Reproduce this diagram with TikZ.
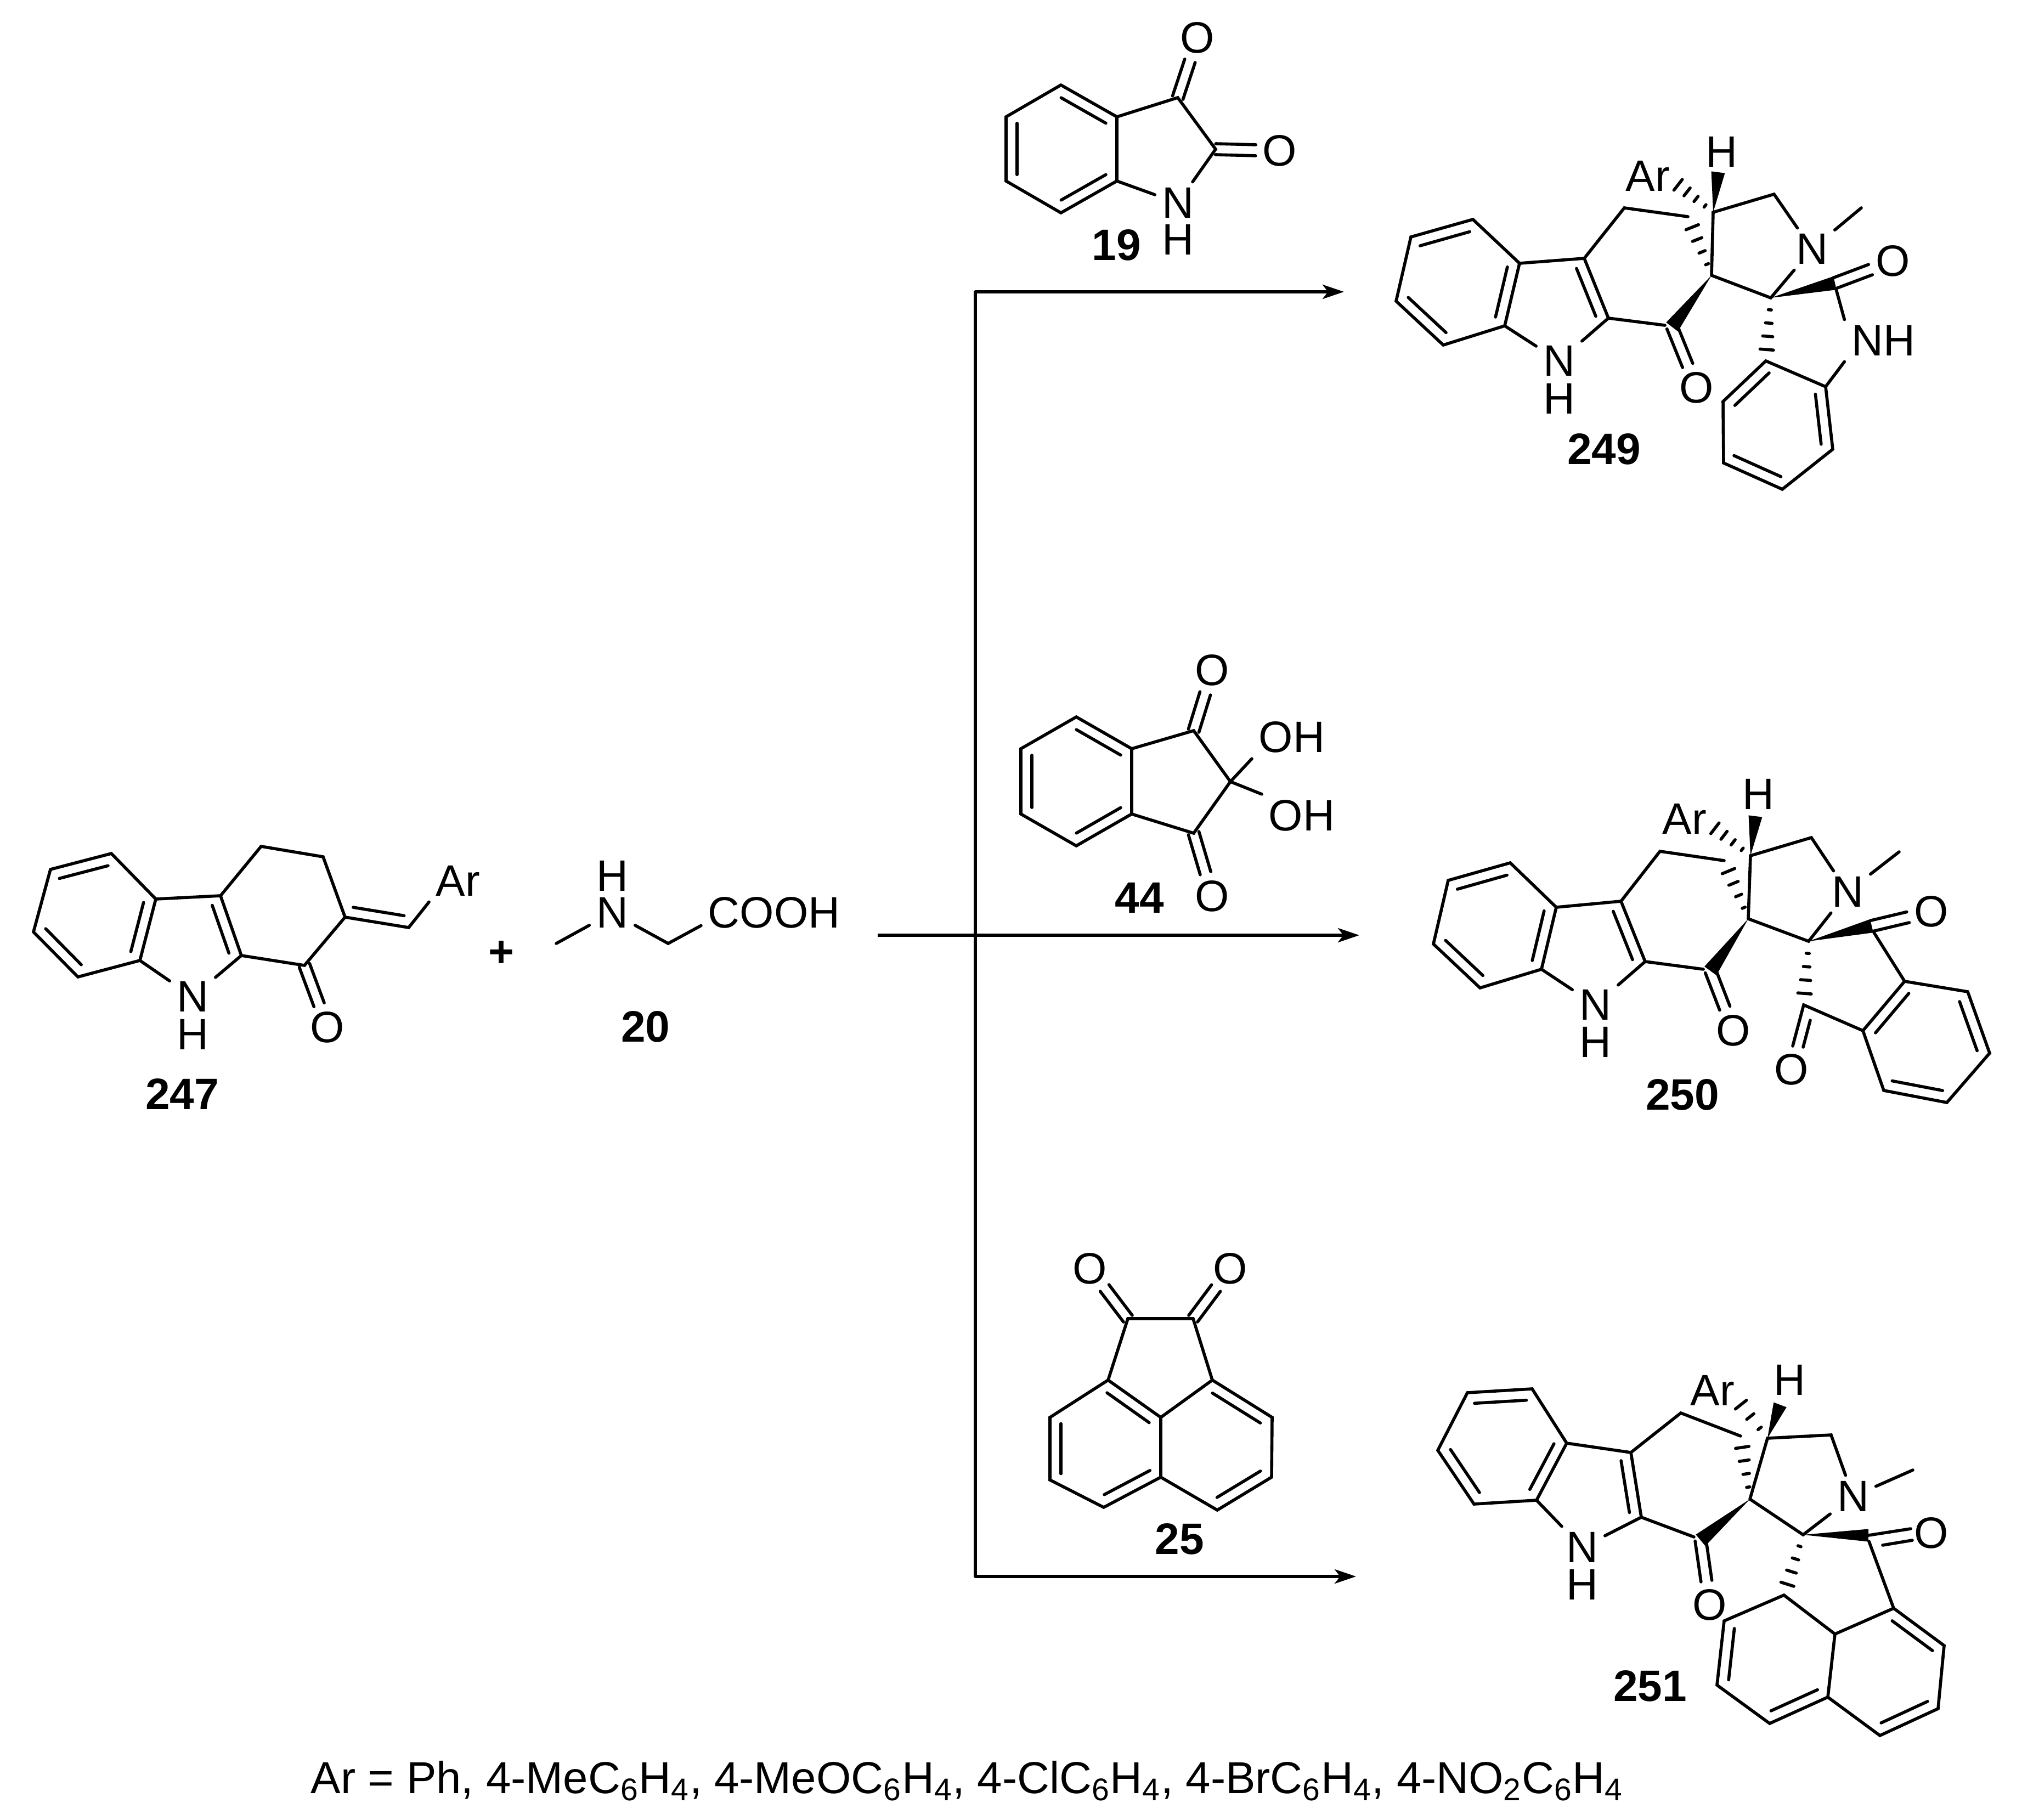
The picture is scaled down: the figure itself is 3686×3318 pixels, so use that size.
\documentclass[tikz,border=0pt]{standalone}
\usepackage{fontspec}
\setmainfont{Liberation Sans}
\usetikzlibrary{calc,arrows.meta}
\newcommand{\ringbond}[2]{\draw ($(#1)!.1!(#2)!.2cm!90:(#2)$) -- ($(#2)!.1!(#1)!.2cm!-90:(#1)$);}
\newcommand{\oxobond}[2]{%
    \draw [shorten >=.44cm] ($(#1)!.1cm!90:(#2)$) -- ($(#2)!.1cm!-90:(#1)$);
    \draw [shorten >=.44cm] ($(#1)!.1cm!-90:(#2)$) -- ($(#2)!.1cm!90:(#1)$);}
\newcommand{\wedgebond}[3]{\fill ($(#2)!#3!90:(#1)$) -- (#1) -- ($(#2)!#3!-90:(#1)$) -- cycle;}
\newcommand{\hashbond}[3][.19,.4,.61,.82]{\foreach \hs in {#1}
    \draw ($(#2)!\hs!(#3)!\hs*.15cm!90:(#3)$) -- ($(#2)!\hs!(#3)!\hs*.15cm!-90:(#3)$);}
\begin{document}
\begin{tikzpicture}[x=.01cm,y=-.01cm,line width=.056cm,line cap=round,
    atom/.style={font=\fontsize{22.8}{27}\selectfont,inner xsep=.1cm,inner ysep=.08cm},
    hatom/.style={atom,inner sep=0pt},
    cpd/.style={font=\fontsize{22.8}{27}\selectfont\bfseries,inner sep=0pt},
    rxnarrow/.style={-{Stealth[length=.39cm,width=.26cm,inset=.1cm]},line cap=butt}]
    \useasboundingbox (0,0) rectangle (3686,3318);
    \coordinate (isA) at (1934,155);
    \coordinate (isB) at (2036,213);
    \coordinate (isC) at (2036,330);
    \coordinate (isD) at (1934,388);
    \coordinate (isE) at (1834,330);
    \coordinate (isF) at (1834,213);
    \coordinate (isG) at (2147,178);
    \coordinate (isI) at (2216,272);
    \node [atom] (isN) at (2147,370) {N};
    \node [hatom] (isH) at (2147,437) {H};
    \node [atom] (isO) at (2183,69) {O};
    \node [atom] (isP) at (2333,275) {O};
    \node [cpd] (isL) at (2035,447) {19};
    \draw (isA) -- (isB) -- (isC) -- (isD) -- (isE) -- (isF) -- cycle;
    \draw (isB) -- (isG) -- (isI) -- (isN) -- (isC);
    \ringbond{isB}{isA}
    \ringbond{isD}{isC}
    \ringbond{isF}{isE}
    \oxobond{isG}{isO}
    \oxobond{isI}{isP}

    \coordinate (nhA) at (1962,1307);
    \coordinate (nhB) at (2063,1365);
    \coordinate (nhC) at (2063,1484);
    \coordinate (nhD) at (1962,1542);
    \coordinate (nhE) at (1861,1484);
    \coordinate (nhF) at (1861,1365);
    \coordinate (nhG) at (2176,1332);
    \coordinate (nhI) at (2243,1425);
    \coordinate (nhJ) at (2176,1519);
    \node [atom] (nhO) at (2210,1222) {O};
    \node [atom] (nhP) at (2210,1634) {O};
    \node [atom] (nhQ) at (2355,1344) {OH};
    \node [atom] (nhR) at (2373,1487) {OH};
    \node [cpd] (nhL) at (2077,1637) {44};
    \draw (nhA) -- (nhB) -- (nhC) -- (nhD) -- (nhE) -- (nhF) -- cycle;
    \draw (nhB) -- (nhG) -- (nhI) -- (nhJ) -- (nhC);
    \draw (nhI) -- (nhQ.south west);
    \draw (nhI) -- (nhR.north west);
    \ringbond{nhB}{nhA}
    \ringbond{nhD}{nhC}
    \ringbond{nhF}{nhE}
    \oxobond{nhG}{nhO}
    \oxobond{nhJ}{nhP}

    \coordinate (acA) at (2056,2404);
    \coordinate (acB) at (2175,2404);
    \coordinate (acC) at (2020,2516);
    \coordinate (acD) at (2210,2516);
    \coordinate (acE) at (2116,2584);
    \coordinate (acF) at (2116,2693);
    \coordinate (acG) at (1914,2584);
    \coordinate (acI) at (1914,2698);
    \coordinate (acJ) at (2012,2748);
    \coordinate (acK) at (2319,2584);
    \coordinate (acM) at (2318,2693);
    \coordinate (acN) at (2219,2753);
    \node [atom] (acO) at (1987,2313) {O};
    \node [atom] (acP) at (2243,2313) {O};
    \node [cpd] (acL) at (2150,2806) {25};
    \draw (acA) -- (acB) -- (acD) -- (acE) -- (acC) -- cycle;
    \draw (acC) -- (acG) -- (acI) -- (acJ) -- (acF) -- (acE);
    \draw (acD) -- (acK) -- (acM) -- (acN) -- (acF);
    \ringbond{acE}{acC}
    \ringbond{acG}{acI}
    \ringbond{acJ}{acF}
    \ringbond{acK}{acD}
    \ringbond{acN}{acM}
    \oxobond{acA}{acO}
    \oxobond{acB}{acP}

    \coordinate (cbA) at (203,1556);
    \coordinate (cbB) at (92,1585);
    \coordinate (cbC) at (61,1699);
    \coordinate (cbD) at (142,1781);
    \coordinate (cbE) at (255,1751);
    \coordinate (cbF) at (284,1639);
    \coordinate (cbG) at (402,1633);
    \coordinate (cbI) at (440,1742);
    \coordinate (cbJ) at (555,1760);
    \coordinate (cbK) at (629,1672);
    \coordinate (cbM) at (589,1562);
    \coordinate (cbQ) at (476,1543);
    \coordinate (cbR) at (745,1691);
    \node [atom] (cbN) at (351,1817) {N};
    \node [hatom] (cbH) at (351,1886) {H};
    \node [atom] (cbO) at (597,1873) {O};
    \node [atom] (cbAr) at (835,1606) {Ar};
    \node [cpd] (cbL) at (332,1994) {247};
    \node [atom] (plus) at (914,1739) {\textbf{+}};
    \draw (cbA) -- (cbB) -- (cbC) -- (cbD) -- (cbE) -- (cbF) -- cycle;
    \draw (cbF) -- (cbG) -- (cbI) -- (cbN) -- (cbE);
    \draw (cbI) -- (cbJ) -- (cbK) -- (cbM) -- (cbQ) -- (cbG);
    \draw (cbK) -- (cbR) -- (cbAr.south west);
    \ringbond{cbA}{cbB}
    \ringbond{cbC}{cbD}
    \ringbond{cbE}{cbF}
    \ringbond{cbI}{cbG}
    \ringbond{cbK}{cbR}
    \oxobond{cbJ}{cbO}

    \coordinate (srA) at (1014,1720);
    \coordinate (srB) at (1218,1720);
    \node [atom] (srN) at (1116,1664) {N};
    \node [hatom] (srH) at (1116,1597) {H};
    \node [atom] (srC) at (1411,1664) {COOH};
    \node [cpd] (srL) at (1177,1872) {20};
    \draw (srA) -- (srN) -- (srB) -- (srC.190);

    \coordinate (brS) at (1600,1705);
    \coordinate (brT) at (1778,532);
    \coordinate (brU) at (1778,2874);
    \coordinate (brA) at (2450,532);
    \coordinate (brB) at (2478,1705);
    \coordinate (brC) at (2472,2874);
    \draw (brT) -- (brU);
    \draw [rxnarrow] (brT) -- (brA);
    \draw [rxnarrow] (brS) -- (brB);
    \draw [rxnarrow] (brU) -- (brC);

    \coordinate (paA) at (2685,400);
    \coordinate (paB) at (2572,432);
    \coordinate (paC) at (2545,549);
    \coordinate (paD) at (2631,629);
    \coordinate (paE) at (2743,594);
    \coordinate (paF) at (2770,480);
    \coordinate (paG) at (2888,471);
    \coordinate (paI) at (2932,580);
    \coordinate (paJ) at (3035,593);
    \coordinate (paJd) at (3048,596);
    \coordinate (paK) at (3120,502);
    \coordinate (paM) at (3123,387);
    \coordinate (paQ) at (2961,379);
    \coordinate (paR) at (3077,395);
    \coordinate (paS) at (3234,354);
    \coordinate (paT) at (3228,543);
    \coordinate (paU) at (3347,527);
    \coordinate (paUd) at (3345,516);
    \coordinate (paV) at (3328,705);
    \coordinate (paW) at (3219,658);
    \coordinate (paX) at (3141,732);
    \coordinate (paY) at (3142,844);
    \coordinate (paZ) at (3249,892);
    \coordinate (paAa) at (3341,819);
    \coordinate (paMe) at (3393,379);
    \coordinate (paAe) at (3045,326);
    \coordinate (paHe) at (3132,314);
    \node [atom] (paN) at (2842,658) {N};
    \node [hatom] (paH) at (2842,727) {H};
    \node [atom] (paO) at (3093,707) {O};
    \node [atom] (paTop) at (3138,277) {H};
    \node [atom] (paAr) at (3004,321) {Ar};
    \node [atom] (paNm) at (3303,454) {N};
    \node [atom] (paP) at (3451,476) {O};
    \node [atom] (paNH) at (3433,621) {NH};
    \node [cpd] (paL) at (2924,819) {249};
    \draw (paA) -- (paB) -- (paC) -- (paD) -- (paE) -- (paF) -- cycle;
    \draw (paF) -- (paG) -- (paI) -- (paN) -- (paE);
    \draw (paI) -- (paJ);
    \draw (paG) -- (paQ) -- (paR);
    \draw (paK) -- (paM) -- (paS) -- (paNm) -- (paT) -- (paK);
    \draw (paNm) -- (paMe);
    \draw (paU) -- (paNH.north west);
    \draw (paNH.south west) -- (paV);
    \draw (paV) -- (paW) -- (paX) -- (paY) -- (paZ) -- (paAa) -- cycle;
    \wedgebond{paK}{paJd}{.135cm}
    \wedgebond{paT}{paUd}{.125cm}
    \wedgebond{paM}{paHe}{.125cm}
    \hashbond{paM}{paAe}
    \hashbond{paK}{paR}
    \hashbond{paT}{paW}
    \ringbond{paA}{paB}
    \ringbond{paC}{paD}
    \ringbond{paE}{paF}
    \ringbond{paI}{paG}
    \ringbond{paW}{paX}
    \ringbond{paY}{paZ}
    \ringbond{paAa}{paV}
    \oxobond{paJd}{paO}
    \oxobond{paUd}{paP}

    \coordinate (pbA) at (2753,1573);
    \coordinate (pbB) at (2640,1605);
    \coordinate (pbC) at (2613,1721);
    \coordinate (pbD) at (2698,1801);
    \coordinate (pbE) at (2810,1767);
    \coordinate (pbF) at (2837,1654);
    \coordinate (pbG) at (2955,1643);
    \coordinate (pbI) at (2999,1753);
    \coordinate (pbJ) at (3105,1767);
    \coordinate (pbJd) at (3118,1770);
    \coordinate (pbK) at (3187,1675);
    \coordinate (pbM) at (3191,1560);
    \coordinate (pbQ) at (3026,1552);
    \coordinate (pbR) at (3143,1569);
    \coordinate (pbS) at (3302,1527);
    \coordinate (pbT) at (3297,1716);
    \coordinate (pbU) at (3416,1700);
    \coordinate (pbUd) at (3412,1688);
    \coordinate (pbV) at (3472,1789);
    \coordinate (pbW) at (3396,1879);
    \coordinate (pbX) at (3288,1832);
    \coordinate (pbY) at (3587,1808);
    \coordinate (pbZ) at (3627,1920);
    \coordinate (pbAa) at (3549,2010);
    \coordinate (pbBb) at (3434,1988);
    \coordinate (pbMe) at (3462,1553);
    \coordinate (pbAe) at (3112,1499);
    \coordinate (pbHe) at (3200,1488);
    \coordinate (pbXa) at (3268,1907);
    \coordinate (pbXb) at (3300,1860);
    \coordinate (pbXc) at (3287,1909);
    \node [atom] (pbN) at (2908,1832) {N};
    \node [hatom] (pbH) at (2908,1900) {H};
    \node [atom] (pbO) at (3160,1879) {O};
    \node [atom] (pbTop) at (3205,1448) {H};
    \node [atom] (pbAr) at (3071,1493) {Ar};
    \node [atom] (pbNm) at (3368,1626) {N};
    \node [atom] (pbP) at (3521,1662) {O};
    \node [atom] (pbPp) at (3266,1950) {O};
    \node [cpd] (pbL) at (3067,1996) {250};
    \draw (pbA) -- (pbB) -- (pbC) -- (pbD) -- (pbE) -- (pbF) -- cycle;
    \draw (pbF) -- (pbG) -- (pbI) -- (pbN) -- (pbE);
    \draw (pbI) -- (pbJ);
    \draw (pbG) -- (pbQ) -- (pbR);
    \draw (pbK) -- (pbM) -- (pbS) -- (pbNm) -- (pbT) -- (pbK);
    \draw (pbNm) -- (pbMe);
    \draw (pbU) -- (pbV);
    \draw (pbV) -- (pbY) -- (pbZ) -- (pbAa) -- (pbBb) -- (pbW) -- cycle;
    \draw (pbW) -- (pbX) -- (pbXa);
    \draw (pbXb) -- (pbXc);
    \wedgebond{pbK}{pbJd}{.135cm}
    \wedgebond{pbT}{pbUd}{.125cm}
    \wedgebond{pbM}{pbHe}{.125cm}
    \hashbond{pbM}{pbAe}
    \hashbond{pbK}{pbR}
    \hashbond{pbT}{pbX}
    \ringbond{pbA}{pbB}
    \ringbond{pbC}{pbD}
    \ringbond{pbE}{pbF}
    \ringbond{pbI}{pbG}
    \ringbond{pbV}{pbW}
    \ringbond{pbZ}{pbY}
    \ringbond{pbBb}{pbAa}
    \oxobond{pbJd}{pbO}
    \oxobond{pbUd}{pbP}

    \coordinate (pcA) at (2793,2532);
    \coordinate (pcB) at (2675,2539);
    \coordinate (pcC) at (2621,2644);
    \coordinate (pcD) at (2687,2742);
    \coordinate (pcE) at (2801,2735);
    \coordinate (pcF) at (2856,2631);
    \coordinate (pcG) at (2973,2648);
    \coordinate (pcI) at (2992,2766);
    \coordinate (pcJ) at (3088,2802);
    \coordinate (pcJd) at (3100,2808);
    \coordinate (pcK) at (3190,2733);
    \coordinate (pcM) at (3222,2622);
    \coordinate (pcQ) at (3064,2576);
    \coordinate (pcR) at (3173,2618);
    \coordinate (pcS) at (3338,2616);
    \coordinate (pcT) at (3287,2798);
    \coordinate (pcU) at (3407,2810);
    \coordinate (pcUd) at (3406,2799);
    \coordinate (pcV) at (3452,2932);
    \coordinate (pcW) at (3345,2979);
    \coordinate (pcX) at (3252,2908);
    \coordinate (pcY) at (3143,2955);
    \coordinate (pcZ) at (3130,3072);
    \coordinate (pcAa) at (3226,3142);
    \coordinate (pcBb) at (3332,3094);
    \coordinate (pcCc) at (3427,3164);
    \coordinate (pcDd) at (3533,3115);
    \coordinate (pcEe) at (3544,3000);
    \coordinate (pcMe) at (3487,2680);
    \coordinate (pcAe) at (3165,2550);
    \coordinate (pcHe) at (3245,2561);
    \coordinate (pcUa) at (3483,2787);
    \coordinate (pcUb) at (3432,2817);
    \coordinate (pcUc) at (3486,2808);
    \node [atom] (pcN) at (2884,2821) {N};
    \node [hatom] (pcH) at (2884,2889) {H};
    \node [atom] (pcO) at (3117,2926) {O};
    \node [atom] (pcTop) at (3262,2516) {H};
    \node [atom] (pcAr) at (3122,2535) {Ar};
    \node [atom] (pcNm) at (3378,2728) {N};
    \node [atom] (pcP) at (3521,2795) {O};
    \node [cpd] (pcL) at (3008,3074) {251};
    \draw (pcA) -- (pcB) -- (pcC) -- (pcD) -- (pcE) -- (pcF) -- cycle;
    \draw (pcF) -- (pcG) -- (pcI) -- (pcN) -- (pcE);
    \draw (pcI) -- (pcJ);
    \draw (pcG) -- (pcQ) -- (pcR);
    \draw (pcK) -- (pcM) -- (pcS) -- (pcNm) -- (pcT) -- (pcK);
    \draw (pcNm) -- (pcMe);
    \draw (pcU) -- (pcV);
    \draw (pcV) -- (pcW) -- (pcX) -- (pcY) -- (pcZ) -- (pcAa) -- (pcBb) -- (pcW);
    \draw (pcBb) -- (pcCc) -- (pcDd) -- (pcEe) -- (pcV);
    \draw (pcUd) -- (pcUa);
    \draw (pcUb) -- (pcUc);
    \wedgebond{pcK}{pcJd}{.135cm}
    \wedgebond{pcT}{pcUd}{.115cm}
    \wedgebond{pcM}{pcHe}{.125cm}
    \hashbond[.25,.55,.85]{pcM}{pcAe}
    \hashbond{pcK}{pcR}
    \hashbond{pcT}{pcX}
    \ringbond{pcA}{pcB}
    \ringbond{pcC}{pcD}
    \ringbond{pcE}{pcF}
    \ringbond{pcI}{pcG}
    \ringbond{pcY}{pcZ}
    \ringbond{pcAa}{pcBb}
    \ringbond{pcEe}{pcV}
    \ringbond{pcCc}{pcDd}
    \oxobond{pcJd}{pcO}

    \node [atom,font=\fontsize{23.2}{27}\selectfont] (note) at (1763,3247) {Ar = Ph, 4-MeC\textsubscript{6}H\textsubscript{4}, 4-MeOC\textsubscript{6}H\textsubscript{4}, 4-ClC\textsubscript{6}H\textsubscript{4}, 4-BrC\textsubscript{6}H\textsubscript{4}, 4-NO\textsubscript{2}C\textsubscript{6}H\textsubscript{4}};
\end{tikzpicture}
\end{document}
